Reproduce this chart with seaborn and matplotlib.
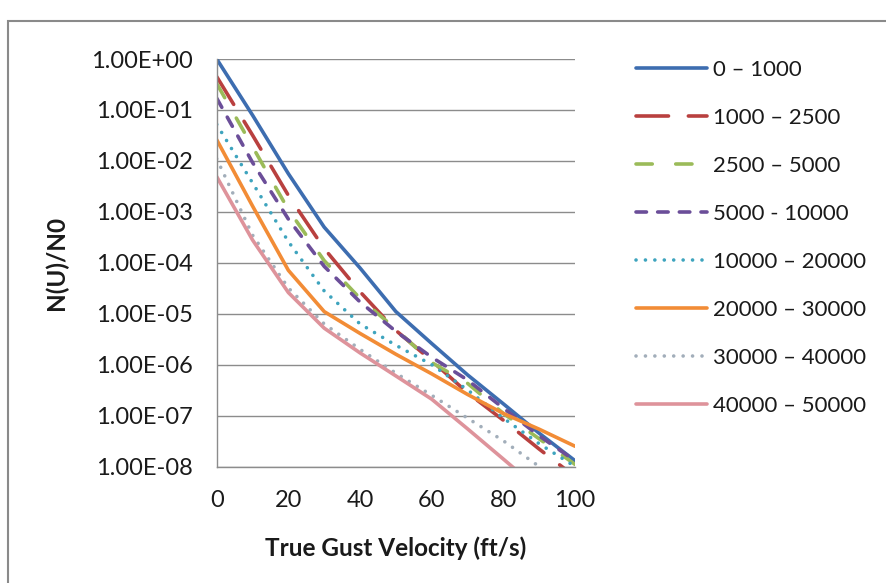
import matplotlib
matplotlib.use("Agg")
import matplotlib.pyplot as plt
from matplotlib.patches import Rectangle
from matplotlib.ticker import FixedLocator, FuncFormatter, NullLocator
import pandas as pd
import seaborn as sns

# Gust exceedance ratio N(U)/N0 vs true gust velocity, per altitude band (ft)
velocity = [0, 10, 20, 30, 40, 50, 60, 70, 80, 90, 100]

band_0_1000 = [1.0, 7.9e-2, 5.6e-3, 5.0e-4, 7.9e-5, 1.1e-5, 2.6e-6, 6.3e-7, 1.7e-7, 4.5e-8, 1.3e-8]
band_1000_2500 = [4.5e-1, 3.2e-2, 2.1e-3, 1.9e-4, 2.7e-5, 4.7e-6, 1.2e-6, 2.8e-7, 8.1e-8, 2.2e-8, 6.3e-9]
band_2500_5000 = [3.3e-1, 1.9e-2, 1.1e-3, 1.1e-4, 2.0e-5, 5.0e-6, 1.1e-6, 4.3e-7, 1.1e-7, 3.5e-8, 1.1e-8]
band_5000_10000 = [1.7e-1, 9.3e-3, 7.2e-4, 8.5e-5, 1.7e-5, 4.5e-6, 1.4e-6, 5.0e-7, 1.4e-7, 4.0e-8, 1.3e-8]
band_10000_20000 = [5.2e-2, 3.7e-3, 2.6e-4, 2.8e-5, 6.3e-6, 2.4e-6, 1.0e-6, 3.2e-7, 8.9e-8, 2.8e-8, 1.0e-8]
band_20000_30000 = [2.6e-2, 1.3e-3, 7.1e-5, 1.1e-5, 4.1e-6, 1.6e-6, 6.6e-7, 2.6e-7, 1.1e-7, 5.4e-8, 2.5e-8]
band_30000_40000 = [1.1e-2, 3.5e-4, 3.2e-5, 6.3e-6, 2.0e-6, 6.8e-7, 2.5e-7, 8.9e-8, 3.2e-8, 1.0e-8, 3.5e-9]
band_40000_50000 = [4.9e-3, 2.8e-4, 2.6e-5, 5.2e-6, 1.7e-6, 6.0e-7, 2.1e-7, 5.5e-8, 1.4e-8, 3.5e-9, 9.0e-10]

band_labels = ["0 – 1000", "1000 – 2500", "2500 – 5000", "5000 - 10000",
               "10000 – 20000", "20000 – 30000", "30000 – 40000", "40000 – 50000"]
band_values = [band_0_1000, band_1000_2500, band_2500_5000, band_5000_10000,
               band_10000_20000, band_20000_30000, band_30000_40000, band_40000_50000]

y_ticks = [1e0, 1e-1, 1e-2, 1e-3, 1e-4, 1e-5, 1e-6, 1e-7, 1e-8]
x_ticks = [0, 20, 40, 60, 80, 100]

# line colour and dash pattern for each band
line_styles = [
    ("#3D6DB0", "-"),
    ("#B9403F", (0, (9.0, 5.5))),
    ("#9BBB59", (0, (4.5, 6.5))),
    ("#6B4E99", (0, (2.9, 3.1))),
    ("#3EA4BE", (0, (0.01, 2.6))),
    ("#F28C36", "-"),
    ("#A2AEBA", (0, (0.01, 2.6))),
    ("#DE939B", "-"),
]

sns.set_style("white")
plt.rcParams["font.family"] = ["Lato", "DejaVu Sans"]

W, H = 887, 583
fig = plt.figure(figsize=(W / 100, H / 100), dpi=100)
ax_l, ax_r, ax_t, ax_b = 216.7, 575.0, 59.0, 466.5
ax = fig.add_axes([ax_l / W, 1 - ax_b / H, (ax_r - ax_l) / W, (ax_b - ax_t) / H])

frames = []
for label, values in zip(band_labels, band_values):
    frames.append(pd.DataFrame({"velocity": velocity, "ratio": values, "band": label}))
data = pd.concat(frames, ignore_index=True)

for label, (color, ls) in zip(band_labels, line_styles):
    sub = data[data["band"] == label]
    sns.lineplot(data=sub, x="velocity", y="ratio", ax=ax, color=color,
                 linestyle=ls, linewidth=2.6, dash_capstyle="round",
                 solid_capstyle="round", label=label, sort=False)

ax.set_yscale("log")
ax.set_ylim(1e-8, 1e0)
ax.set_xlim(0, 100)
ax.yaxis.set_major_locator(FixedLocator(y_ticks))
ax.yaxis.set_minor_locator(NullLocator())
ax.yaxis.set_major_formatter(FuncFormatter(lambda v, _: f"{v:.2E}"))
ax.xaxis.set_major_locator(FixedLocator(x_ticks))
ax.xaxis.set_minor_locator(NullLocator())

grid_color = "#8C8C8C"
ax.set_axisbelow(True)
ax.yaxis.grid(True, color=grid_color, linewidth=1.0)
ax.xaxis.grid(False)
for side in ("top", "right"):
    ax.spines[side].set_visible(False)
for side in ("left", "bottom"):
    ax.spines[side].set_color(grid_color)
    ax.spines[side].set_linewidth(1.0)

ax.tick_params(axis="both", which="major", direction="out", length=5,
               width=1.0, color=grid_color, labelsize=17, labelcolor="#1a1a1a")
ax.tick_params(axis="y", pad=12)
ax.tick_params(axis="x", pad=12)

ax.set_xlabel("True Gust Velocity (ft/s)", fontsize=17.5, fontweight="bold", color="#1a1a1a")
ax.set_ylabel("N(U)/N0", fontsize=17.5, fontweight="bold", color="#1a1a1a")
ax.xaxis.set_label_coords(0.5, (ax_b - 548) / (ax_b - ax_t))
ax.xaxis.label.set_va("center")
ax.yaxis.set_label_coords((56 - ax_l) / (ax_r - ax_l), 0.5)
ax.yaxis.label.set_va("center")

leg = ax.legend(loc="upper left", bbox_to_anchor=(636 / W, 1 - 60 / H),
                bbox_transform=fig.transFigure, frameon=False, fontsize=16,
                handlelength=3.2, handletextpad=0.25, labelspacing=1.26,
                borderpad=0, borderaxespad=0)
for txt in leg.get_texts():
    txt.set_color("#1a1a1a")

# outer chart border
fig.patches.append(Rectangle((8.5 / W, -0.1), 2.0, 1.1 - 21 / H,
                             transform=fig.transFigure, fill=False,
                             edgecolor="#8A8A8A", linewidth=1.5))

fig.savefig("out.png", dpi=100, facecolor="white")
